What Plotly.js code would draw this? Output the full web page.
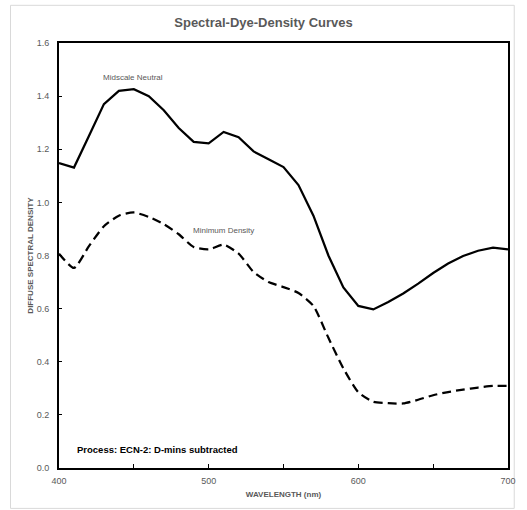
<!DOCTYPE html>
<html>
<head>
<meta charset="utf-8">
<script src="https://cdn.plot.ly/plotly-3.0.1.min.js"></script>
<style>html,body{margin:0;padding:0;background:#fff;}#chart{width:527px;height:510px;}</style>
</head>
<body>
<div id="chart"></div>
<script>
const wavelength = [400,410,420,430,440,450,460,470,480,490,500,510,520,530,540,550,560,570,580,590,600,610,620,630,640,650,660,670,680,690,700];
const midscaleNeutral = [1.148,1.131,1.25,1.37,1.42,1.426,1.40,1.347,1.28,1.228,1.222,1.265,1.245,1.192,1.162,1.133,1.065,0.95,0.80,0.68,0.61,0.597,0.625,0.657,0.694,0.734,0.77,0.798,0.818,0.830,0.823];
const minimumDensity = [0.807,0.753,0.835,0.91,0.95,0.962,0.945,0.918,0.88,0.832,0.823,0.841,0.807,0.738,0.70,0.681,0.659,0.61,0.49,0.375,0.285,0.249,0.244,0.243,0.257,0.274,0.286,0.295,0.303,0.309,0.309];
const seriesNames = ["Midscale Neutral","Minimum Density"];
const titleText = "Spectral-Dye-Density Curves";
const xTitle = "WAVELENGTH (nm)";
const yTitle = "DIFFUSE SPECTRAL DENSITY";
const noteText = "Process: ECN-2: D-mins subtracted";

const gray = "#595959";
const font = "Liberation Sans, Arial, sans-serif";

const traces = [
  {x: wavelength, y: midscaleNeutral, name: seriesNames[0], mode: "lines",
   line: {color: "#000", width: 2.25}},
  {x: wavelength, y: minimumDensity, name: seriesNames[1], mode: "lines",
   line: {color: "#000", width: 2.25, dash: "9px,5px", shape: "spline", smoothing: 0.6}}
];

const layout = {
  width: 527, height: 510,
  margin: {l: 59, r: 19, t: 43, b: 42, pad: 0},
  paper_bgcolor: "#fff", plot_bgcolor: "#fff",
  showlegend: false,
  font: {family: font, color: gray, size: 9},
  title: {text: "<b>" + titleText + "</b>", font: {family: font, size: 13, color: gray},
          x: 0.5, xanchor: "center", y: 1 - 22/510, yanchor: "middle"},
  xaxis: {range: [400, 700], dtick: 100, tick0: 400, showgrid: false, zeroline: false,
          showline: true, mirror: true, linecolor: "#000", linewidth: 2,
          ticks: "inside", ticklen: 4, tickcolor: "#000", tickwidth: 1,
          minor: {dtick: 50, ticks: "inside", ticklen: 4, tickcolor: "#000", showgrid: false},
          tickfont: {size: 9, color: gray}, ticklabelstandoff: 3,
          title: {text: "<b>" + xTitle + "</b>", font: {size: 8, color: gray}, standoff: 7}},
  yaxis: {range: [0, 1.6], dtick: 0.2, tickformat: ".1f", showgrid: false, zeroline: false,
          showline: true, mirror: true, linecolor: "#000", linewidth: 2,
          ticks: "inside", ticklen: 3, tickcolor: "#000", tickwidth: 1,
          tickfont: {size: 9, color: gray}, ticklabelstandoff: 6,
          title: {text: "<b>" + yTitle + "</b>", font: {size: 8, color: gray}, standoff: 2}},
  annotations: [
    {x: 449.3, y: 1.471, xref: "x", yref: "y", text: seriesNames[0], showarrow: false,
     font: {size: 8, color: gray}},
    {x: 510.2, y: 0.895, xref: "x", yref: "y", text: seriesNames[1], showarrow: false,
     font: {size: 8, color: gray}},
    {x: 410.5, y: 0.069, xref: "x", yref: "y", text: "<b>" + noteText + "</b>", showarrow: false,
     xanchor: "left", font: {size: 9.5, color: "#000"}}
  ],
  shapes: [
    {type: "rect", xref: "paper", yref: "paper", x0: -0.108, x1: 1.0139, y0: -0.095, y1: 1.0887,
     line: {color: "#d9d9d9", width: 1}, layer: "below"}
  ]
};

Plotly.newPlot("chart", traces, layout, {displayModeBar: false, staticPlot: true});
</script>
</body>
</html>
